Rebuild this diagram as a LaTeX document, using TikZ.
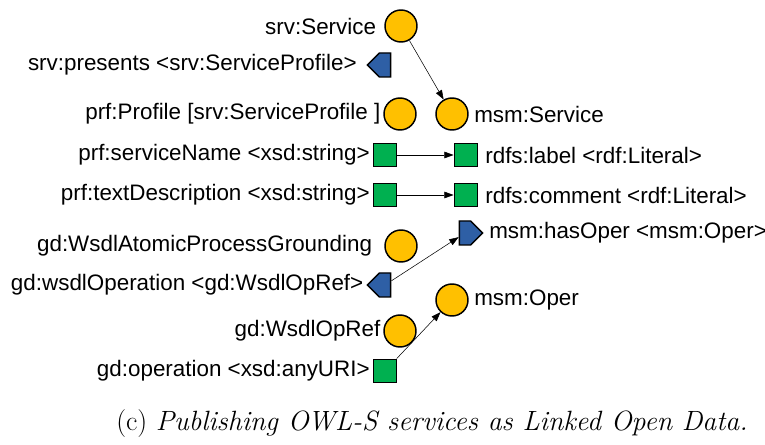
\documentclass[tikz,border=0pt]{standalone}
\usepackage{fontspec}
\setmainfont{Liberation Sans}
\newfontfamily\captionfont{Latin Modern Roman}
\usetikzlibrary{positioning,shapes.symbols,arrows.meta}
\definecolor{clsyellow}{RGB}{255,192,0}
\definecolor{litgreen}{RGB}{0,176,80}
\definecolor{propblue}{RGB}{46,95,165}

\begin{document}
\begin{tikzpicture}[x=0.75pt, y=-0.75pt,
        cls/.style={circle, draw, line width=1.1pt, fill=clsyellow, minimum size=24pt, inner sep=0pt},
        lit/.style={rectangle, draw, line width=1.1pt, fill=litgreen, minimum size=17.5pt, inner sep=0pt},
        propl/.style={signal, signal to=west, draw, line width=1.1pt, fill=propblue, minimum width=17.5pt, minimum height=18pt, inner sep=0pt},
        propr/.style={signal, signal to=east, draw, line width=1.1pt, fill=propblue, minimum width=17.5pt, minimum height=18pt, inner sep=0pt},
        txt/.style={font=\fontsize{16.8}{19}\selectfont, inner sep=1pt},
        arr/.style={-{Triangle[length=7pt, width=5pt]}, thin}
    ]
        \useasboundingbox (0,0) rectangle (765,445);

        % left side: OWL-S
        \node[cls] (srv) at (401,26) {};
        \node[txt, left=5pt of srv] (srv-t) {srv:Service};
        \node[propl] (presents) at (385,65) {};
        \node[txt, left=6pt of presents] (presents-t) {srv:presents <srv:ServiceProfile>};
        \node[cls] (prf) at (400,114) {};
        \node[txt, left=1pt of prf] (prf-t) {prf:Profile [srv:ServiceProfile ]};
        \node[lit] (name) at (385,155) {};
        \node[txt, left=1pt of name] (name-t) {prf:serviceName <xsd:string>};
        \node[lit] (desc) at (385,195) {};
        \node[txt, left=1pt of desc] (desc-t) {prf:textDescription <xsd:string>};
        \node[cls] (grnd) at (401,246) {};
        \node[txt, left=8pt of grnd] (grnd-t) {gd:WsdlAtomicProcessGrounding};
        \node[propl] (wsdlop) at (385,285) {};
        \node[txt, left=1pt of wsdlop] (wsdlop-t) {gd:wsdlOperation <gd:WsdlOpRef>};
        \node[cls] (opref) at (400,331) {};
        \node[txt, left=1pt of opref] (opref-t) {gd:WsdlOpRef};
        \node[lit] (oper) at (385,371) {};
        \node[txt, left=1pt of oper] (oper-t) {gd:operation <xsd:anyURI>};

        % right side: MSM
        \node[cls] (msm-srv) at (452,114) {};
        \node[txt, right=3pt of msm-srv] (msm-srv-t) {msm:Service};
        \node[lit] (label) at (466,155) {};
        \node[txt, right=4pt of label] (label-t) {rdfs:label <rdf:Literal>};
        \node[lit] (comment) at (466,195) {};
        \node[txt, right=4pt of comment] (comment-t) {rdfs:comment <rdf:Literal>};
        \node[propr] (hasop) at (465,233) {};
        \node[txt, right=3pt of hasop] (hasop-t) {msm:hasOper <msm:Oper>};
        \node[cls] (msm-op) at (452,300) {};
        \node[txt, right=3pt of msm-op] (msm-op-t) {msm:Oper};

        \draw[arr] (srv) -- (msm-srv);
        \draw[arr] (name) -- (label);
        \draw[arr] (desc) -- (comment);
        \draw[arr] (wsdlop) -- (hasop);
        \draw[arr] (oper) -- (msm-op);

        % caption
        \node[font=\captionfont\fontsize{20.9}{24}\selectfont] (cap) at (432,424) {(c) \textit{Publishing OWL-S services as Linked Open Data.}};
    \end{tikzpicture}
\end{document}
